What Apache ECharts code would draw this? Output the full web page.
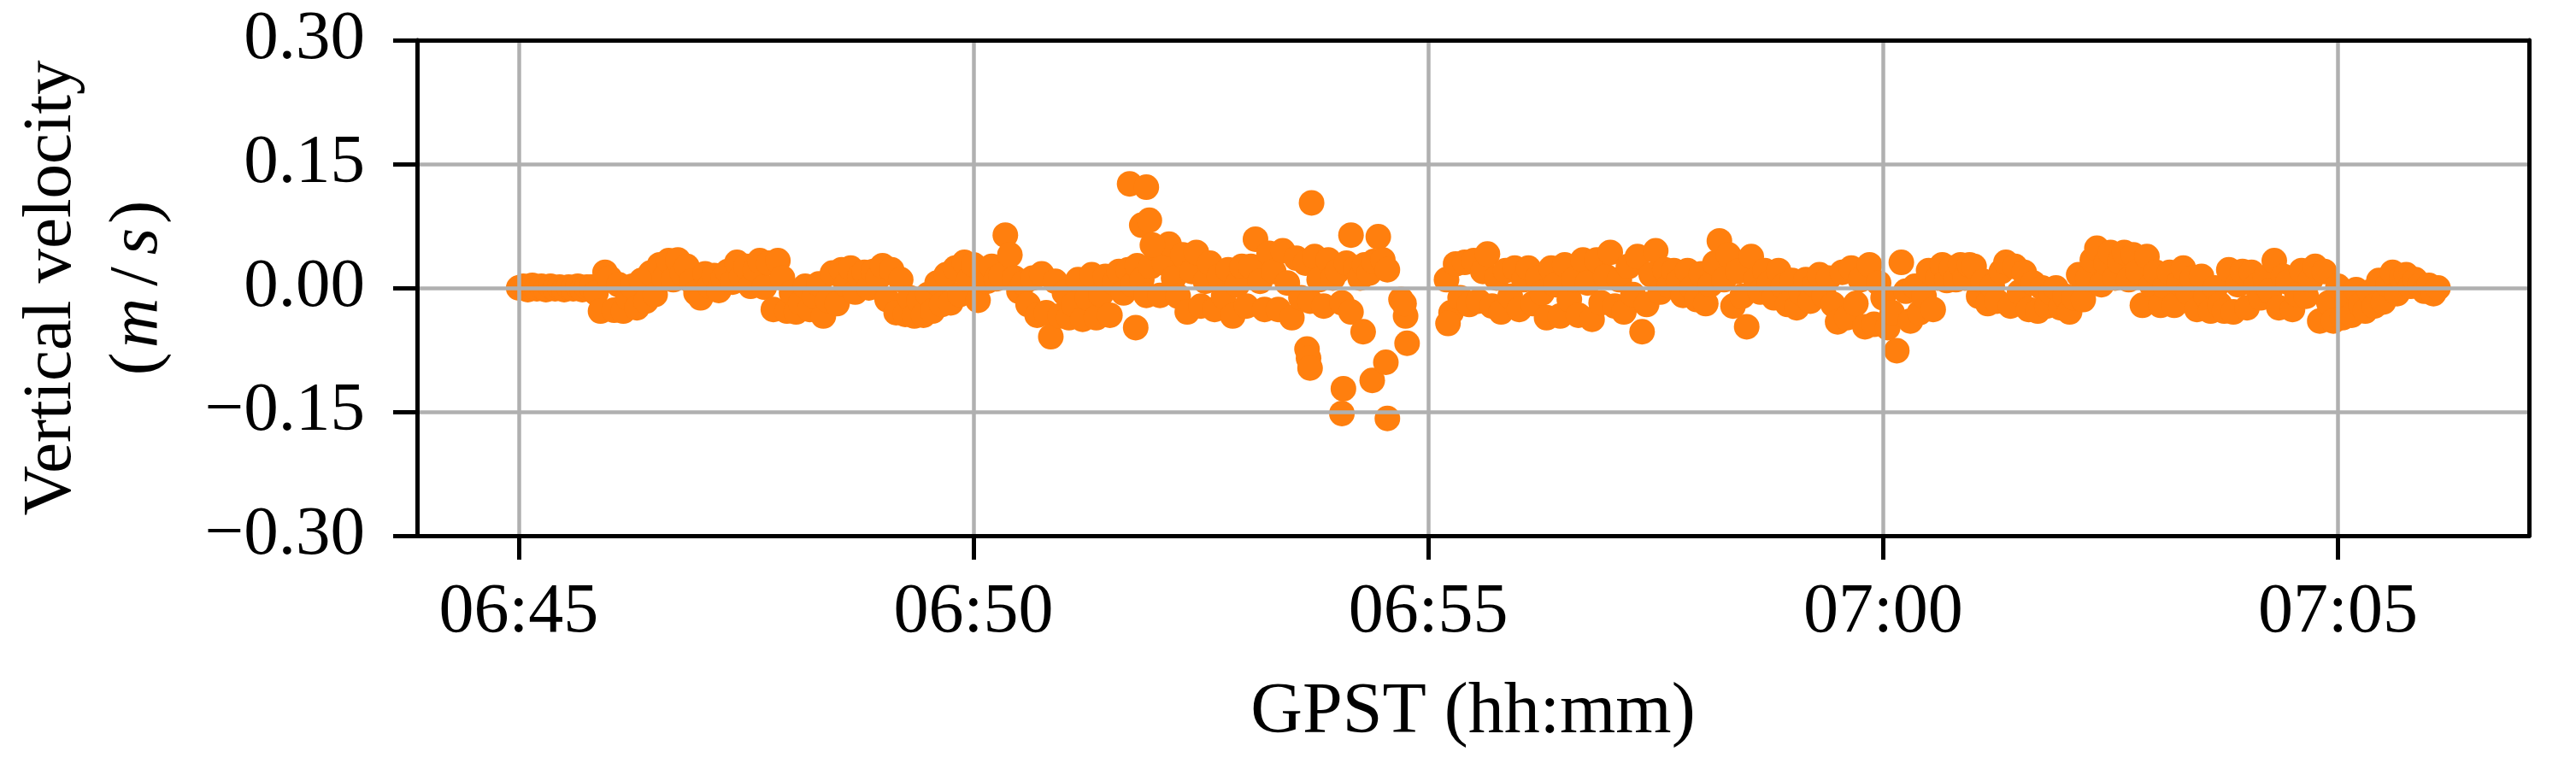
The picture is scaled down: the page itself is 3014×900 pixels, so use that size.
<!DOCTYPE html>
<html>
<head>
<meta charset="utf-8">
<script src="https://cdn.jsdelivr.net/npm/echarts@6/dist/echarts.min.js"></script>
<style>
html,body{margin:0;padding:0;background:#fff;}
#chart{width:3014px;height:900px;}
</style>
</head>
<body>
<div id="chart"></div>
<script>
// x values are seconds after 06:45:00 GPST
const xTickSecs = [0, 300, 600, 900, 1200];
const xTickLabels = ['06:45', '06:50', '06:55', '07:00', '07:05'];
const stepSec = 3; // spacing of the read-off samples inside each minute

// vertical velocity (m/s), one array per minute, samples every 3 s
const vel0645 = [0.000, 0.002, -0.002, 0.003, -0.001, 0.002, -0.002, 0.002, -0.001, 0.001, -0.002, 0.001, -0.001, 0.002, -0.002, 0.001, 0.001, -0.006, -0.028, 0.019];
const vel0646 = [0.012, -0.027, 0.004, -0.028, -0.012, 0.002, -0.024, 0.009, -0.016, 0.018, -0.008, 0.028, 0.012, 0.033, 0.010, 0.034, 0.018, 0.026, 0.008, -0.006];
const vel0647 = [-0.012, 0.017, 0.002, 0.015, -0.003, 0.012, 0.020, 0.007, 0.031, 0.014, 0.026, 0.002, 0.022, 0.033, 0.001, 0.030, -0.026, 0.033, 0.012, -0.028];
const vel0648 = [-0.006, -0.029, -0.018, 0.002, -0.026, -0.010, 0.005, -0.034, -0.015, 0.018, -0.019, 0.022, 0.004, 0.024, -0.005, 0.014, 0.019, 0.000, 0.020, 0.012];
const vel0649 = [0.027, -0.014, 0.022, -0.030, 0.010, -0.032, -0.012, -0.034, -0.015, -0.033, -0.008, -0.028, 0.006, -0.020, 0.016, -0.018, 0.024, -0.008, 0.031, 0.010];
const vel0650 = [0.028, -0.015, 0.022, 0.008, 0.026, 0.011, 0.015, 0.064, 0.040, 0.012, -0.004, 0.006, -0.020, 0.012, -0.033, 0.017, -0.030, -0.059, 0.008, -0.034];
const vel0651 = [-0.006, -0.036, -0.020, 0.010, -0.038, -0.012, 0.016, -0.036, -0.008, 0.014, -0.033, 0.006, 0.020, -0.006, 0.022, 0.004, 0.027, 0.010, -0.009, 0.026];
const vel0652 = [0.048, -0.009, 0.030, 0.053, 0.012, -0.010, 0.040, -0.029, 0.020, 0.043, -0.022, 0.008, 0.030, -0.026, 0.014, -0.010, 0.022, -0.034, 0.004, 0.026];
const vel0653 = [-0.022, 0.026, 0.059, 0.008, -0.026, 0.042, 0.020, -0.026, 0.045, 0.006, -0.036, 0.036, -0.012, 0.030, -0.016, 0.038, 0.010, -0.022, 0.034, 0.012];
const vel0654 = [0.020, -0.018, 0.030, 0.064, 0.024, 0.012, 0.028, 0.018, 0.032, 0.062, 0.034, 0.022, null, null, -0.014, -0.034, null, null, null, null];
const vel0655 = [null, null, null, null, 0.010, -0.030, 0.029, -0.012, 0.031, -0.020, 0.033, -0.016, 0.020, 0.041, -0.022, 0.012, -0.029, 0.021, -0.010, 0.024];
const vel0656 = [-0.026, 0.010, 0.024, -0.019, 0.012, -0.006, -0.036, 0.024, 0.004, -0.034, 0.028, -0.014, 0.010, -0.033, 0.034, 0.006, -0.038, 0.034, -0.018, 0.014];
const vel0657 = [0.043, -0.022, 0.010, -0.029, 0.026, -0.008, 0.038, -0.053, -0.020, 0.016, 0.045, -0.005, 0.022, 0.003, 0.021, 0.008, -0.009, 0.021, 0.000, -0.014];
const vel0658 = [0.017, -0.019, 0.004, 0.030, 0.057, 0.010, 0.040, -0.022, 0.020, -0.010, -0.047, 0.038, 0.010, -0.005, 0.021, 0.006, -0.012, 0.021, 0.002, -0.020];
const vel0659 = [0.009, -0.024, -0.006, 0.010, -0.016, 0.004, 0.016, -0.009, 0.012, -0.020, -0.041, 0.019, -0.036, 0.024, -0.019, 0.010, -0.047, 0.028, -0.044, 0.006];
const vel0700 = [-0.012, -0.048, -0.030, -0.076, 0.031, -0.004, -0.040, 0.002, -0.030, -0.010, 0.021, -0.026, 0.012, 0.028, 0.009, 0.024, 0.010, 0.028, 0.012, 0.028];
const vel0701 = [0.026, -0.010, 0.008, -0.019, 0.002, -0.016, 0.020, 0.031, -0.022, 0.026, -0.005, 0.019, -0.026, 0.006, -0.028, 0.000, -0.022, -0.006, 0.000, -0.024];
const vel0702 = [-0.010, -0.029, -0.012, 0.016, -0.014, 0.012, 0.034, 0.048, 0.004, 0.030, 0.043, 0.012, 0.032, 0.043, 0.010, 0.040, 0.020, -0.021, 0.038, 0.004];
const vel0703 = [0.019, -0.021, 0.002, 0.019, -0.021, 0.006, 0.024, -0.005, 0.012, -0.026, 0.014, -0.010, -0.028, 0.000, -0.020, -0.028, 0.022, -0.029, 0.004, 0.020];
const vel0704 = [-0.024, 0.019, 0.002, -0.012, 0.012, -0.004, 0.033, -0.024, 0.014, 0.007, -0.026, -0.008, 0.021, -0.010, 0.010, 0.026, -0.040, 0.020, -0.018, -0.040];
const vel0705 = [0.002, -0.036, -0.015, -0.033, -0.002, -0.020, -0.028, -0.005, -0.022, 0.009, -0.017, 0.004, 0.019, -0.007, 0.012, 0.016, 0.002, 0.010, 0.003, -0.004];
const vel0706 = [0.003, -0.007, 0.000];

// isolated points between the regular samples: [seconds after 06:45, m/s]
const extraPoints = [
  [403, 0.126], [407, -0.048], [411, 0.076], [414, 0.122], [416, 0.082], [418, 0.052],
  [520, -0.074], [521, -0.085], [522, -0.097], [523, 0.103],
  [543, -0.152], [544, -0.122], [549, -0.029], [557, -0.053], [563, -0.112],
  [572, -0.090], [573, -0.158], [584, -0.019], [586, -0.067], [613, -0.043]
];

const minuteArrays = [vel0645, vel0646, vel0647, vel0648, vel0649, vel0650, vel0651, vel0652,
  vel0653, vel0654, vel0655, vel0656, vel0657, vel0658, vel0659, vel0700, vel0701, vel0702,
  vel0703, vel0704, vel0705, vel0706];

const points = [];
minuteArrays.forEach((arr, i) => {
  arr.forEach((v, j) => { if (v !== null) points.push([i * 60 + j * stepSec, v]); });
});
extraPoints.forEach(p => points.push(p));

const FONT = 'Liberation Serif';
const BLACK = '#000000';
const GRID = '#b0b0b0';

const chart = echarts.init(document.getElementById('chart'), null, {renderer: 'canvas'});
chart.setOption({
  animation: false,
  backgroundColor: '#ffffff',
  grid: {left: 488, right: 55, top: 47, bottom: 273, containLabel: false},
  xAxis: [{
    type: 'value', min: -67, max: 1326, z: 5,
    axisLine: {onZero: false, lineStyle: {color: BLACK, width: 5}},
    axisTick: {show: true, customValues: xTickSecs, length: 28, lineStyle: {color: BLACK, width: 5}},
    axisLabel: {
      customValues: xTickSecs,
      formatter: v => xTickLabels[xTickSecs.indexOf(v)] || '',
      fontFamily: FONT, fontSize: 82, lineHeight: 82, color: BLACK, margin: 49
    },
    splitLine: {show: true, lineStyle: {color: GRID, width: 4.5}},
    name: 'GPST (hh:mm)', nameLocation: 'middle', nameGap: 166,
    nameTextStyle: {fontFamily: FONT, fontSize: 84, lineHeight: 84, color: BLACK}
  }, {
    type: 'value', position: 'top', min: -67, max: 1326, z: 5,
    axisLine: {show: true, onZero: false, lineStyle: {color: BLACK, width: 5}},
    axisTick: {show: false}, axisLabel: {show: false}, splitLine: {show: false}
  }],
  yAxis: [{
    type: 'value', min: -0.3, max: 0.3, interval: 0.15, z: 5,
    axisLine: {show: true, onZero: false, lineStyle: {color: BLACK, width: 5}},
    axisTick: {show: true, length: 28, lineStyle: {color: BLACK, width: 5}},
    axisLabel: {
      formatter: v => (v < -1e-9 ? '\u2212' : '') + Math.abs(v).toFixed(2),
      fontFamily: FONT, fontSize: 81, color: BLACK, margin: 61
    },
    splitLine: {show: true, lineStyle: {color: GRID, width: 4.5}},
    name: '{a|Vertical velocity}\n{a|(}{i|m}{sl|/}{i|s}{a|)}',
    nameLocation: 'middle', nameRotate: 90, nameGap: 276,
    nameTextStyle: {
      fontFamily: FONT, fontSize: 81, lineHeight: 101, color: BLACK,
      rich: {
        a: {fontFamily: FONT, fontSize: 81, lineHeight: 101, color: BLACK},
        i: {fontFamily: FONT, fontSize: 81, lineHeight: 101, color: BLACK, fontStyle: 'italic', padding: [0, 5]},
        sl: {fontFamily: FONT, fontSize: 81, lineHeight: 101, color: BLACK, padding: [0, 9]}
      }
    }
  }, {
    type: 'value', position: 'right', min: -0.3, max: 0.3, interval: 0.15, z: 5,
    axisLine: {show: true, onZero: false, lineStyle: {color: BLACK, width: 5}},
    axisTick: {show: false}, axisLabel: {show: false}, splitLine: {show: false}
  }],
  series: [{
    type: 'scatter', xAxisIndex: 0, yAxisIndex: 0,
    symbol: 'circle', symbolSize: 30,
    itemStyle: {color: '#ff7f0e', opacity: 1},
    data: points, z: 2
  }]
});
</script>
</body>
</html>
